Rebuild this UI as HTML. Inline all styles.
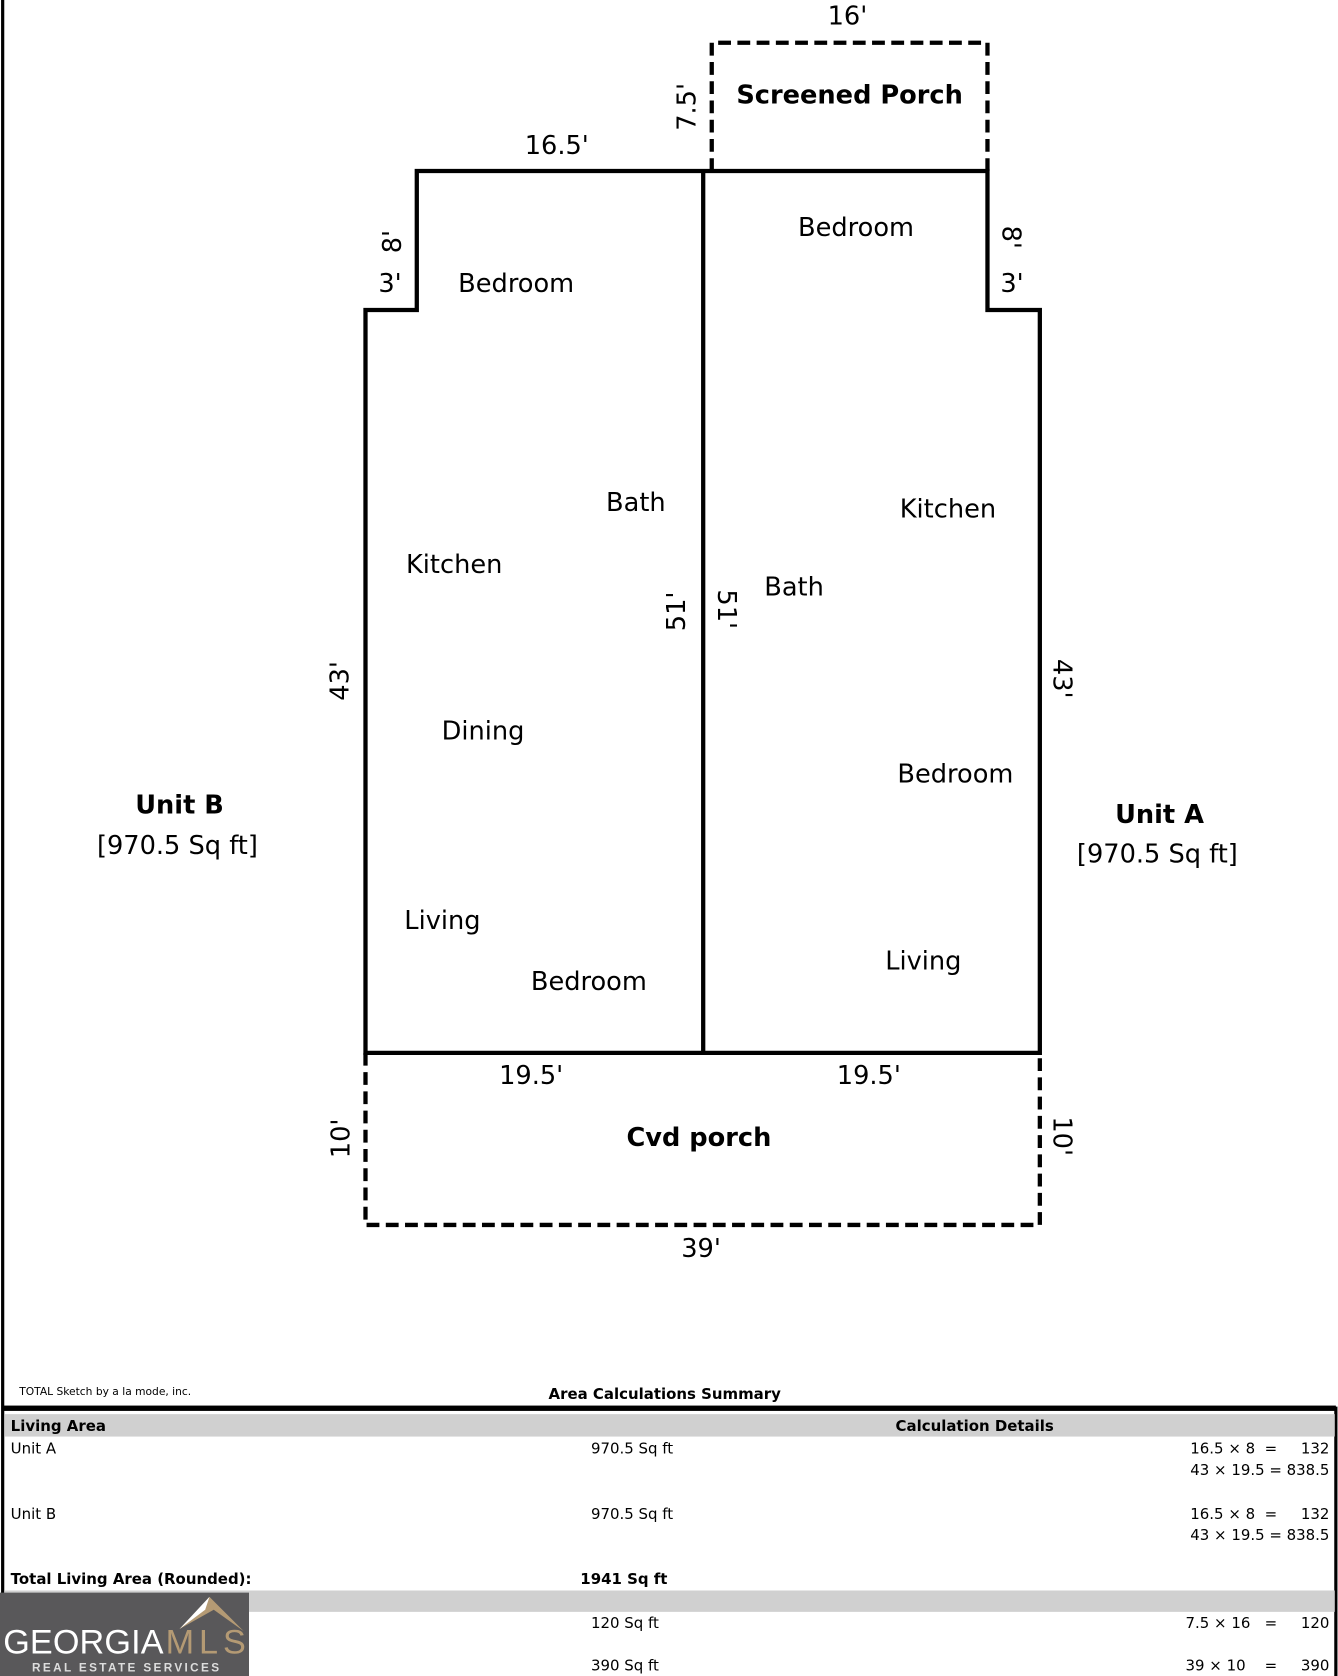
<!DOCTYPE html>
<html><head><meta charset="utf-8"><style>
html,body{margin:0;padding:0;background:#fff;}
svg{display:block;}
text{font-family:"DejaVu Sans","Liberation Sans",sans-serif;fill:#000;}
.r{font-size:24px;}
.b{font-size:24px;font-weight:bold;}
.t{font-size:14px;}
.tb{font-size:14px;font-weight:bold;}
</style></head><body>
<svg width="1338" height="1676" viewBox="0 0 1252 1568" preserveAspectRatio="none" xmlns="http://www.w3.org/2000/svg">
<rect x="0" y="0" width="1252" height="1568" fill="#fff"/>
<line x1="2.5" y1="0" x2="2.5" y2="1568" stroke="#000" stroke-width="3"/>
<line x1="1250" y1="1316" x2="1250" y2="1568" stroke="#000" stroke-width="3"/>
<path d="M390 160 H924 V290 H973 V985 H342 V290 H390 Z" fill="none" stroke="#000" stroke-width="4"/>
<line x1="658" y1="160" x2="658" y2="985" stroke="#000" stroke-width="4"/>
<path d="M666 160 V40 H924 V160" fill="none" stroke="#000" stroke-width="4" stroke-dasharray="12 6"/>
<path d="M342 985 V1146 H973 V985" fill="none" stroke="#000" stroke-width="4" stroke-dasharray="12 6"/>
<g text-anchor="middle">
<text class="r" x="793" y="23">16'</text>
<text class="b" x="795" y="97">Screened Porch</text>
<text class="r" transform="translate(651,100) rotate(-90)">7.5'</text>
<text class="r" x="521" y="144">16.5'</text>
<text class="r" transform="translate(375,226) rotate(-90)">8'</text>
<text class="r" x="365" y="273">3'</text>
<text class="r" x="483" y="273">Bedroom</text>
<text class="r" x="801" y="221">Bedroom</text>
<text class="r" transform="translate(938,222) rotate(90)">8'</text>
<text class="r" x="947" y="273">3'</text>
<text class="r" x="595" y="478">Bath</text>
<text class="r" x="425" y="536">Kitchen</text>
<text class="r" transform="translate(641,572) rotate(-90)">51'</text>
<text class="r" transform="translate(672,570) rotate(90)">51'</text>
<text class="r" x="743" y="557">Bath</text>
<text class="r" x="887" y="484">Kitchen</text>
<text class="r" transform="translate(326,637) rotate(-90)">43'</text>
<text class="r" transform="translate(986,635) rotate(90)">43'</text>
<text class="r" x="452" y="692">Dining</text>
<text class="r" x="894" y="732">Bedroom</text>
<text class="b" x="168" y="761">Unit B</text>
<text class="r" x="166" y="799">[970.5 Sq ft]</text>
<text class="b" x="1085" y="770">Unit A</text>
<text class="r" x="1083" y="807">[970.5 Sq ft]</text>
<text class="r" x="414" y="869">Living</text>
<text class="r" x="864" y="907">Living</text>
<text class="r" x="551" y="926">Bedroom</text>
<text class="r" x="497" y="1014">19.5'</text>
<text class="r" x="813" y="1014">19.5'</text>
<text class="b" x="654" y="1072">Cvd porch</text>
<text class="r" transform="translate(327,1065) rotate(-90)">10'</text>
<text class="r" transform="translate(986,1063) rotate(90)">10'</text>
<text class="r" x="656" y="1176">39'</text>
</g>
<text x="18" y="1305" style="font-size:10px">TOTAL Sketch by a la mode, inc.</text>
<text class="tb" x="622" y="1309" text-anchor="middle">Area Calculations Summary</text>
<rect x="3" y="1315" width="1247" height="5" fill="#000"/>
<rect x="4" y="1323" width="1245" height="21" fill="#d0d0d0"/>
<text class="tb" x="10" y="1339">Living Area</text>
<text class="tb" x="912" y="1339" text-anchor="middle">Calculation Details</text>
<text class="t" x="10" y="1360">Unit A</text>
<text class="t" x="553" y="1360">970.5 Sq ft</text>
<text class="t" x="1244" y="1360" text-anchor="end" xml:space="preserve">16.5 × 8  =     132</text>
<text class="t" x="1244" y="1380" text-anchor="end">43 × 19.5 = 838.5</text>
<text class="t" x="10" y="1421">Unit B</text>
<text class="t" x="553" y="1421">970.5 Sq ft</text>
<text class="t" x="1244" y="1421" text-anchor="end" xml:space="preserve">16.5 × 8  =     132</text>
<text class="t" x="1244" y="1441" text-anchor="end">43 × 19.5 = 838.5</text>
<text class="tb" x="10" y="1482">Total Living Area (Rounded):</text>
<text class="tb" x="543" y="1482">1941 Sq ft</text>
<rect x="4" y="1488" width="1245" height="20" fill="#d0d0d0"/>
<text class="t" x="553" y="1523">120 Sq ft</text>
<text class="t" x="1244" y="1523" text-anchor="end" xml:space="preserve">7.5 × 16   =     120</text>
<text class="t" x="553" y="1563">390 Sq ft</text>
<text class="t" x="1244" y="1563" text-anchor="end" xml:space="preserve">39 × 10    =     390</text>
<rect x="0" y="1490" width="233" height="78" fill="#59585a"/>
<path d="M168 1524 L196 1494 L228 1526 L200 1506 Z" fill="#b49a74"/>
<path d="M168 1524 L196 1494 L192 1506 Z" fill="#fff"/>
<text x="3" y="1547" style="font-size:32px;fill:#fff;font-family:'Liberation Sans',sans-serif" textLength="150">GEORGIA</text>
<text x="155" y="1547" style="font-size:32px;fill:#b49a74;font-family:'Liberation Sans',sans-serif" textLength="75">MLS</text>
<text x="30" y="1564" style="font-size:11px;fill:#ddd;font-weight:bold;font-family:'Liberation Sans',sans-serif" textLength="175">REAL ESTATE SERVICES</text>
</svg>
</body></html>
